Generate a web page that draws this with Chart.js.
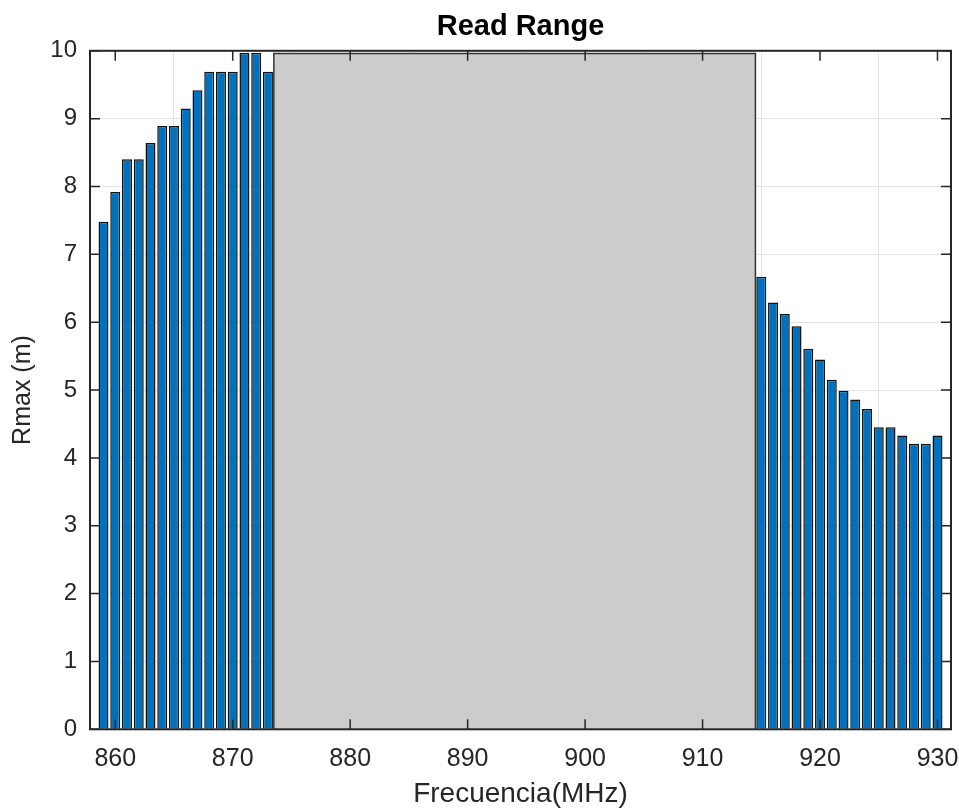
<!DOCTYPE html>
<html>
<head>
<meta charset="utf-8">
<title>Read Range</title>
<script src="https://cdn.jsdelivr.net/npm/chart.js@4.4.1/dist/chart.umd.min.js"></script>
<style>
  body { margin: 0; background: #fff; }
  #wrap { width: 959px; height: 810px; }
</style>
</head>
<body>
<div id="wrap"><canvas id="chart"></canvas></div>
<script>
// Measured read range per frequency (MHz -> m)
const frequencies = [
  859, 860, 861, 862, 863, 864, 865, 866, 867, 868, 869, 870, 871, 872, 873,
  915, 916, 917, 918, 919, 920, 921, 922, 923, 924, 925, 926, 927, 928, 929, 930
];
const rmax = [
  7.48, 7.92, 8.40, 8.40, 8.64, 8.89, 8.89, 9.15, 9.42, 9.69, 9.69, 9.69, 9.97, 9.97, 9.69,
  6.67, 6.29, 6.12, 5.94, 5.61, 5.45, 5.15, 4.99, 4.86, 4.72, 4.45, 4.45, 4.33, 4.21, 4.21, 4.33
];

// Gray band (frequencies not measured)
const bandX = [873.5, 873.5, 914.5, 914.5];
const bandY = [0, 9.96, 9.96, 0];

const xTicks = [860, 870, 880, 890, 900, 910, 920, 930];
const yTicks = [0, 1, 2, 3, 4, 5, 6, 7, 8, 9, 10];
const xRange = [857.85, 931.15];
const yRange = [0, 10];

const fontFamily = '"Liberation Sans", Arial, Helvetica, sans-serif';
const axisColor = '#262626';

// MATLAB-like box with inward ticks on all four sides
const boxPlugin = {
  id: 'box',
  afterDraw(chart) {
    const { ctx, chartArea: a, scales } = chart;
    const len = 10;
    ctx.save();
    ctx.strokeStyle = axisColor;
    ctx.lineWidth = 1.5;
    ctx.beginPath();
    scales.x.ticks.forEach(t => {
      const px = scales.x.getPixelForValue(t.value);
      ctx.moveTo(px, a.bottom); ctx.lineTo(px, a.bottom - len);
      ctx.moveTo(px, a.top); ctx.lineTo(px, a.top + len);
    });
    scales.y.ticks.forEach(t => {
      const py = scales.y.getPixelForValue(t.value);
      ctx.moveTo(a.left, py); ctx.lineTo(a.left + len, py);
      ctx.moveTo(a.right, py); ctx.lineTo(a.right - len, py);
    });
    ctx.stroke();
    ctx.lineWidth = 2;
    ctx.strokeRect(a.left, a.top, a.right - a.left, a.bottom - a.top);
    ctx.restore();
  }
};

const ctx = document.getElementById('chart').getContext('2d');
new Chart(ctx, {
  type: 'bar',
  data: {
    datasets: [
      {
        type: 'line',
        data: bandX.map((x, i) => ({ x, y: bandY[i] })),
        fill: 'origin',
        backgroundColor: '#cccccc',
        borderColor: '#333333',
        borderWidth: 1.5,
        pointRadius: 0,
        tension: 0,
        order: 2
      },
      {
        label: 'Rmax',
        data: frequencies.map((f, i) => ({ x: f, y: rmax[i] })),
        backgroundColor: '#0072BD',
        borderColor: '#111111',
        borderWidth: 1.5,
        categoryPercentage: 0.85,
        barPercentage: 1,
        order: 1
      }
    ]
  },
  options: {
    responsive: true,
    maintainAspectRatio: false,
    animation: false,
    layout: { padding: { left: 0, right: 8, top: 0, bottom: 0 } },
    plugins: {
      legend: { display: false },
      tooltip: { enabled: false },
      title: {
        display: true,
        text: 'Read Range',
        fullSize: false,
        color: '#000',
        font: { family: fontFamily, size: 29, weight: 'bold' },
        padding: { top: 10, bottom: 6 }
      }
    },
    scales: {
      x: {
        type: 'linear',
        min: xRange[0],
        max: xRange[1],
        offset: false,
        afterBuildTicks: (scale) => { scale.ticks = xTicks.map(v => ({ value: v })); },
        afterFit: (scale) => {
          scale.height = 80.7;
          scale.paddingLeft = 0;
          scale.paddingRight = 0;
        },
        grid: { color: '#e3e3e3', lineWidth: 1, drawTicks: false },
        border: { display: false },
        ticks: {
          color: axisColor,
          padding: 15,
          maxRotation: 0,
          font: { family: fontFamily, size: 25 }
        },
        title: {
          display: true,
          text: 'Frecuencia(MHz)',
          color: axisColor,
          font: { family: fontFamily, size: 28, lineHeight: 1 },
          padding: { top: 0, bottom: 2 }
        }
      },
      y: {
        min: yRange[0],
        max: yRange[1],
        afterBuildTicks: (scale) => { scale.ticks = yTicks.map(v => ({ value: v })); },
        afterFit: (scale) => {
          scale.width = 90;
          scale.paddingTop = 0;
          scale.paddingBottom = 0;
        },
        grid: { color: '#e3e3e3', lineWidth: 1, drawTicks: false },
        border: { display: false },
        ticks: {
          color: axisColor,
          padding: 13,
          font: { family: fontFamily, size: 24 }
        },
        title: {
          display: true,
          text: 'Rmax (m)',
          color: axisColor,
          font: { family: fontFamily, size: 25, lineHeight: 1 },
          padding: { top: 11, bottom: 0 }
        }
      }
    }
  },
  plugins: [boxPlugin]
});
</script>
</body>
</html>
